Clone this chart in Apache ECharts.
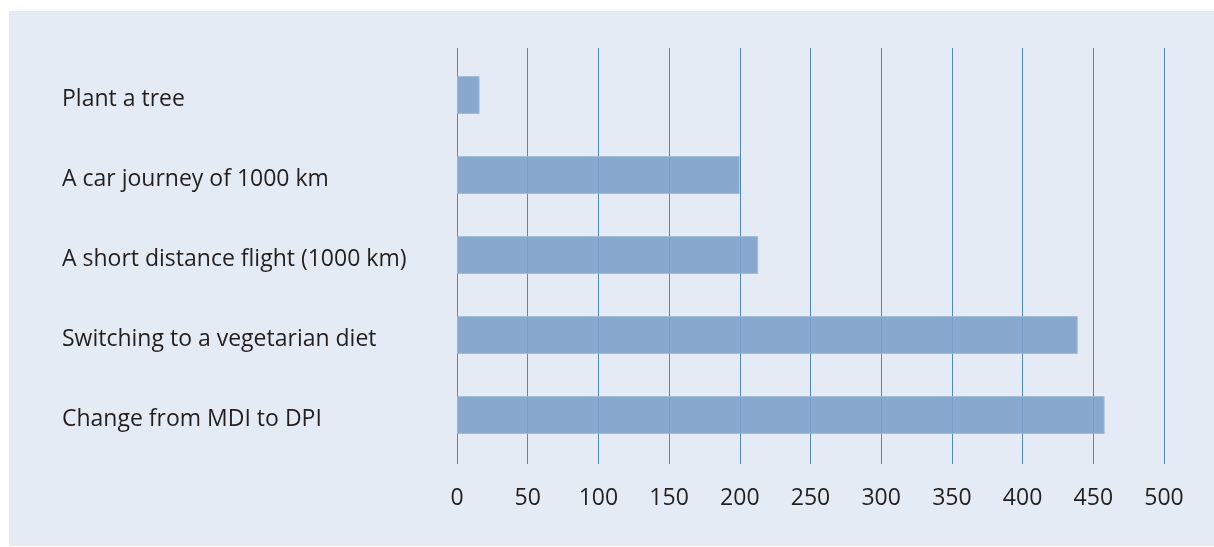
<!DOCTYPE html>
<html>
<head>
<meta charset="utf-8">
<script src="https://cdn.jsdelivr.net/npm/echarts@6/dist/echarts.min.js"></script>
<style>
html,body{margin:0;padding:0;background:#ffffff;}
#wrap{position:absolute;left:9px;top:11px;width:1205px;height:535px;background:#e4ebf5;}
#chart{position:absolute;left:0;top:0;width:1214px;height:547px;}
</style>
</head>
<body>
<div id="wrap"></div>
<div id="chart"></div>
<script>
const categories = [
  "Plant a tree",
  "A car journey of 1000 km",
  "A short distance flight (1000 km)",
  "Switching to a vegetarian diet",
  "Change from MDI to DPI"
];
const values = [16, 200, 213, 439, 458];
const xMin = 0, xMax = 500, xInterval = 50;

const chart = echarts.init(document.getElementById('chart'), null, {renderer: 'canvas'});
const fontFamily = '"Open Sans", "Noto Sans", sans-serif';
chart.setOption({
  backgroundColor: 'transparent',
  animation: false,
  grid: [
    {left: 457, right: 50, top: 55, height: 400},
    {left: 457, right: 50, top: 48, height: 416}
  ],
  xAxis: [
    {gridIndex: 0, type: 'value', min: xMin, max: xMax, interval: xInterval,
     axisLine: {show: false}, axisTick: {show: false}, axisLabel: {show: false}, splitLine: {show: false}},
    {gridIndex: 1, type: 'value', min: xMin, max: xMax, interval: xInterval,
     axisLine: {show: false}, axisTick: {show: false},
     axisLabel: {show: true, color: '#231f20', fontSize: 23, fontFamily: fontFamily, margin: 23},
     splitLine: {show: true, lineStyle: {color: '#4f88c2', width: 1}}}
  ],
  yAxis: [
    {gridIndex: 0, type: 'category', data: categories, inverse: true,
     axisLine: {show: false}, axisTick: {show: false},
     axisLabel: {color: '#231f20', fontSize: 23, fontFamily: fontFamily, align: 'left', margin: 395,
       formatter: function (v) { return '{a|' + v + '}'; },
       rich: {a: {color: '#231f20', fontSize: 23, fontFamily: fontFamily, padding: [8, 0, 0, 0]}}}},
    {gridIndex: 1, type: 'category', data: categories, show: false}
  ],
  series: [
    {type: 'bar', xAxisIndex: 0, yAxisIndex: 0, data: values, barWidth: 38, z: 3,
     itemStyle: {color: 'rgba(125,161,201,0.9)', borderColor: 'rgba(160,188,220,0.9)', borderWidth: 1}}
  ]
});
</script>
</body>
</html>
